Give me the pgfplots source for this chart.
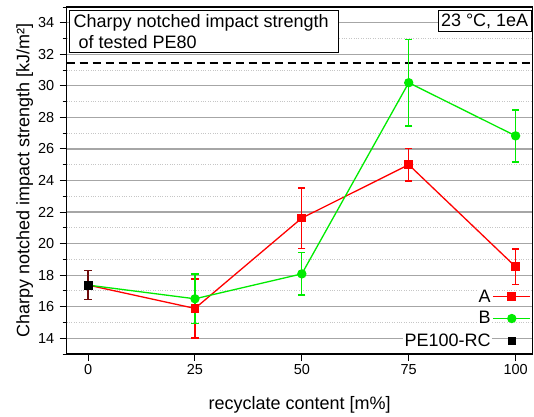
\documentclass[border=0pt]{standalone}
\usepackage{fontspec}
\setmainfont{Liberation Sans}
\usepackage{pgfplots}
\pgfplotsset{compat=1.18}
\definecolor{pegreen}{RGB}{0,235,0}
\definecolor{pered}{RGB}{255,0,0}
\definecolor{pedark}{RGB}{110,10,10}
\begin{document}
\begin{tikzpicture}
\begin{axis}[
  name=ax,
  scale only axis, width=466bp, height=347bp,
  xmin=-5, xmax=104, ymin=13, ymax=35,
  xtick={0,25,50,75,100},
  ytick={14,16,...,34},
  minor ytick={13,15,...,35},
  tick align=outside, xtick pos=bottom, ytick pos=left,
  major tick length=7bp, minor tick length=4bp,
  tick style={black, line width=1bp},
  axis line style={black, line width=1.2bp},
  ymajorgrids, yminorgrids,
  major grid style={gray!70, line width=1.2bp},
  minor grid style={gray!45, dotted, line width=0.9bp},
  /pgf/number format/assume math mode=true,
  tick label style={font=\fontsize{14.5bp}{17bp}\selectfont},
  yticklabel style={xshift=-2bp},
  label style={font=\fontsize{18bp}{21bp}\selectfont},
  xlabel={recyclate content [m\%]},
  ylabel={Charpy notched impact strength [kJ/m²]},
  xlabel style={at={(axis description cs:0.5,-0.147)}, anchor=center},
  ylabel style={at={(axis description cs:-0.09,0.5)}, anchor=center},
  legend style={draw=none, fill=none, at={(rel axis cs:1.002,0.008)}, anchor=south east,
    font=\fontsize{18bp}{21bp}\selectfont, row sep=5bp,
    nodes={fill=white, inner sep=1.5bp}},
  legend cell align=right,
  legend plot pos=right,
  legend image code/.code={\draw[#1, mark indices={2}] plot coordinates {(0bp,0bp)(19bp,0bp)(37bp,0bp)};},
  every error bar/.style={line width=1.3bp, solid},
]
\addplot[black, dashed, dash pattern=on 8bp off 5bp, line width=1.5bp, forget plot] coordinates {(-5,31.45) (104,31.45)};

\addplot[pered, line width=1.3bp, mark=square*, mark size=3.7bp, mark indices={2,3,4,5},
  error bars/.cd, y dir=both, y explicit, error mark=|,
  error bar style={line width=1.3bp, solid, draw=pered},
  error mark options={draw=pered, mark size=3.6bp, line width=1.5bp, solid}]
  table[x=x, y=y, y error=e] {
x y e
0 17.37 0
25 15.89 1.88
50 21.62 1.92
75 25.00 1.02
100 18.53 1.12
};
\addlegendentry{A}

\addplot[pegreen, line width=1.3bp, mark=*, mark size=4bp, mark indices={2,3,4,5},
  error bars/.cd, y dir=both, y explicit, error mark=|,
  error bar style={line width=1.3bp, solid, draw=pegreen},
  error mark options={draw=pegreen, mark size=3.6bp, line width=1.5bp, solid}]
  table[x=x, y=y, y error=e] {
x y e
0 17.37 0
25 16.50 1.56
50 18.08 1.35
75 30.20 2.74
100 26.83 1.65
};
\addlegendentry{B}

\addplot[black, only marks, mark=square*, mark size=3.7bp,
  error bars/.cd, y dir=both, y explicit, error mark=|,
  error bar style={line width=1.3bp, draw=pedark},
  error mark options={draw=pedark, mark size=3.6bp, line width=1.5bp}]
  table[x=x, y=y, y error=e] {
x y e
0 17.37 0.93
};
\addlegendentry{PE100-RC}

\node[draw=black, line width=1bp, fill=white, anchor=north west, align=left, inner sep=4bp,
  font=\fontsize{18bp}{21bp}\selectfont] at (rel axis cs:0.005,0.991)
  {Charpy notched impact strength\hspace*{6bp}\\\ of tested PE80};
\node[draw=black, line width=1bp, fill=white, anchor=north east, inner sep=3bp,
  font=\fontsize{18bp}{21bp}\selectfont] at (rel axis cs:0.998,0.991)
  {23 °C, 1eA};
\end{axis}
\path (ax.south west) ++(-66.7bp,-60bp) rectangle ++(534bp,414bp);
\end{tikzpicture}
\end{document}
